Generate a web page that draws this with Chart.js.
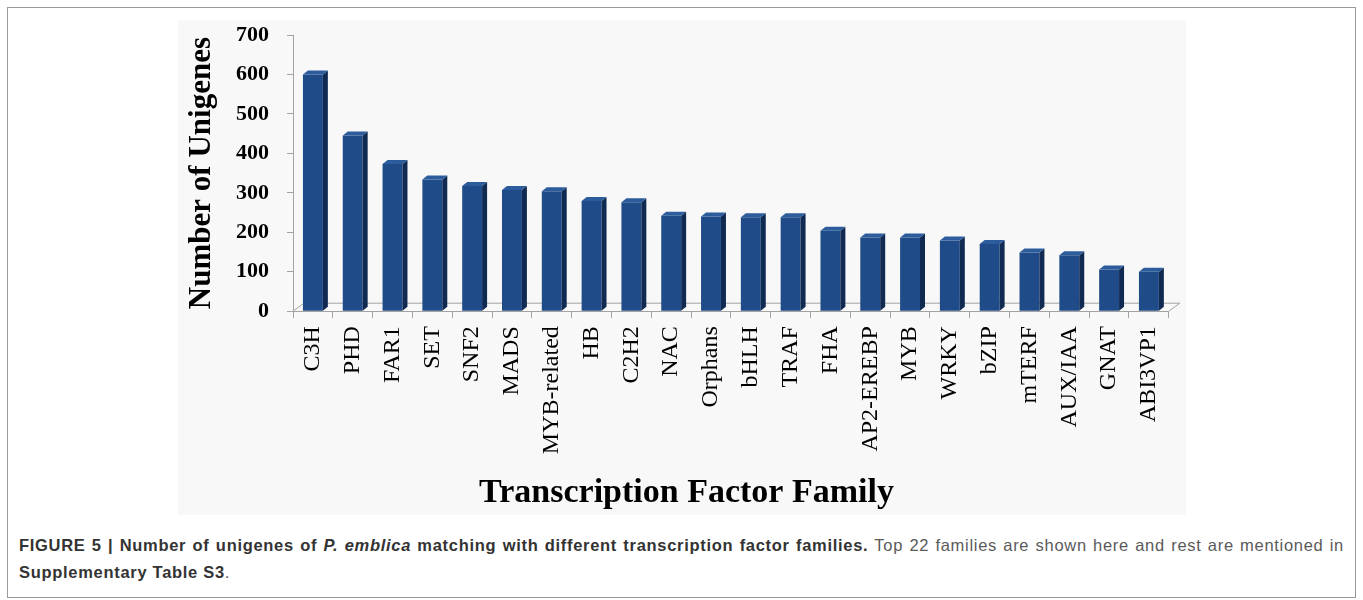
<!DOCTYPE html>
<html lang="en">
<head>
    <meta charset="UTF-8">
    <title>Transcription Factor Families</title>
    <script src="https://cdn.jsdelivr.net/npm/chart.js"></script>
    <style>
        * {
            margin: 0;
            padding: 0;
            box-sizing: border-box;
        }

        body {
            width: 1363px;
            height: 600px;
            background: #fff;
            position: relative;
            overflow: hidden;
        }

        .frame {
            position: absolute;
            left: 7px;
            top: 7px;
            width: 1349px;
            height: 591px;
            border: 1px solid #9a9a9a;
        }

        .panel {
            position: absolute;
            left: 178px;
            top: 20px;
            width: 1008px;
            height: 495px;
            background: #f8f8f8;
        }

        .caption {
            position: absolute;
            left: 19px;
            top: 532px;
            width: 1325px;
            font-family: "Liberation Sans Narrow", "Arial Narrow", "Liberation Sans", sans-serif;
            font-size: 16.5px;
            letter-spacing: 0.7px;
            line-height: 27px;
            color: #5a5a5a;
        }

        .caption .first {
            text-align: justify;
            text-align-last: justify;
            white-space: nowrap;
        }

        .caption b {
            color: #333;
        }
    </style>
</head>
<body>
    <div class="frame"></div>
    <div class="panel">
        <canvas id="tfChart" width="1008" height="495"></canvas>
    </div>
    <div class="caption">
        <div class="first"><b>FIGURE 5 | Number of unigenes of <i>P. emblica</i> matching with different transcription factor families.</b> Top 22 families are shown here and rest are mentioned in</div>
        <div><b>Supplementary Table S3</b>.</div>
    </div>

    <script>
        // Families (x axis) and unigene counts
        const families = ["C3H", "PHD", "FAR1", "SET", "SNF2", "MADS", "MYB-related", "HB", "C2H2", "NAC",
            "Orphans", "bHLH", "TRAF", "FHA", "AP2-EREBP", "MYB", "WRKY", "bZIP", "mTERF", "AUX/IAA",
            "GNAT", "ABI3VP1"];
        const unigenes = [600, 445, 373, 334, 317, 307, 304, 279, 276, 242,
            240, 238, 238, 204, 187, 187, 179, 170, 149, 142,
            106, 100];
        const yTicks = [0, 100, 200, 300, 400, 500, 600, 700];

        const serif = "'Liberation Serif', 'Times New Roman', serif";
        const axisGray = '#a3a3a3';

        // pseudo 3D: floor outline + side/top faces for the bars
        const depth = { dx: 5, dy: 4 };
        const bars3d = {
            id: 'bars3d',
            beforeDatasetsDraw(chart) {
                const { ctx, chartArea: a } = chart;
                ctx.save();
                ctx.strokeStyle = axisGray;
                ctx.lineWidth = 1;
                ctx.beginPath();
                ctx.moveTo(a.left, a.bottom);
                ctx.lineTo(a.left + 11, a.bottom - 8);
                ctx.lineTo(a.right + 11, a.bottom - 8);
                ctx.lineTo(a.right, a.bottom);
                ctx.stroke();
                ctx.restore();
            },
            afterDatasetsDraw(chart) {
                const { ctx } = chart;
                const meta = chart.getDatasetMeta(0);
                ctx.save();
                meta.data.forEach(bar => {
                    const { x, y, base, width } = bar.getProps(['x', 'y', 'base', 'width'], true);
                    const l = x - width / 2, r = x + width / 2;
                    ctx.fillStyle = '#112a52';
                    ctx.beginPath();
                    ctx.moveTo(r, y);
                    ctx.lineTo(r + depth.dx, y - depth.dy);
                    ctx.lineTo(r + depth.dx, base - depth.dy);
                    ctx.lineTo(r, base);
                    ctx.closePath();
                    ctx.fill();
                    ctx.fillStyle = '#2c5c9c';
                    ctx.beginPath();
                    ctx.moveTo(l, y);
                    ctx.lineTo(l + depth.dx, y - depth.dy);
                    ctx.lineTo(r + depth.dx, y - depth.dy);
                    ctx.lineTo(r, y);
                    ctx.closePath();
                    ctx.fill();
                });
                ctx.restore();
            }
        };

        new Chart(document.getElementById('tfChart'), {
            type: 'bar',
            data: {
                labels: families,
                datasets: [{
                    data: unigenes,
                    backgroundColor: '#1f4b88',
                    borderWidth: 0,
                    barPercentage: 0.5,
                    categoryPercentage: 1.0
                }]
            },
            options: {
                responsive: false,
                animation: false,
                layout: {
                    padding: { left: 22, top: 15, right: 13, bottom: 0 }
                },
                plugins: {
                    legend: { display: false },
                    tooltip: { enabled: false },
                    title: {
                        display: true,
                        position: 'bottom',
                        text: 'Transcription Factor Family',
                        color: '#000',
                        font: { family: serif, size: 34, weight: 'bold' },
                        padding: { top: 0, bottom: 1 }
                    }
                },
                scales: {
                    x: {
                        afterFit: s => { s.height = 162; },
                        border: { display: true, color: axisGray },
                        grid: {
                            offset: true,
                            drawOnChartArea: false,
                            drawTicks: true,
                            tickLength: 7,
                            color: axisGray
                        },
                        ticks: {
                            autoSkip: false,
                            minRotation: 90,
                            maxRotation: 90,
                            padding: 8,
                            color: '#000',
                            font: { family: serif, size: 24 }
                        }
                    },
                    y: {
                        min: 0,
                        max: 700,
                        afterFit: s => {
                            s.width = 93;
                            s.paddingTop = 12;
                            s.paddingBottom = 12;
                        },
                        afterBuildTicks: s => { s.ticks = yTicks.map(v => ({ value: v })); },
                        border: { display: true, color: axisGray },
                        grid: {
                            drawOnChartArea: false,
                            drawTicks: true,
                            tickLength: 6,
                            color: axisGray
                        },
                        ticks: {
                            padding: 18,
                            color: '#000',
                            font: { family: serif, size: 22, weight: 'bold' }
                        },
                        title: {
                            display: true,
                            text: 'Number of Unigenes',
                            color: '#000',
                            font: { family: serif, size: 31, weight: 'bold' },
                            padding: { top: -17, bottom: 0 }
                        }
                    }
                }
            },
            plugins: [bars3d]
        });
    </script>
</body>
</html>
